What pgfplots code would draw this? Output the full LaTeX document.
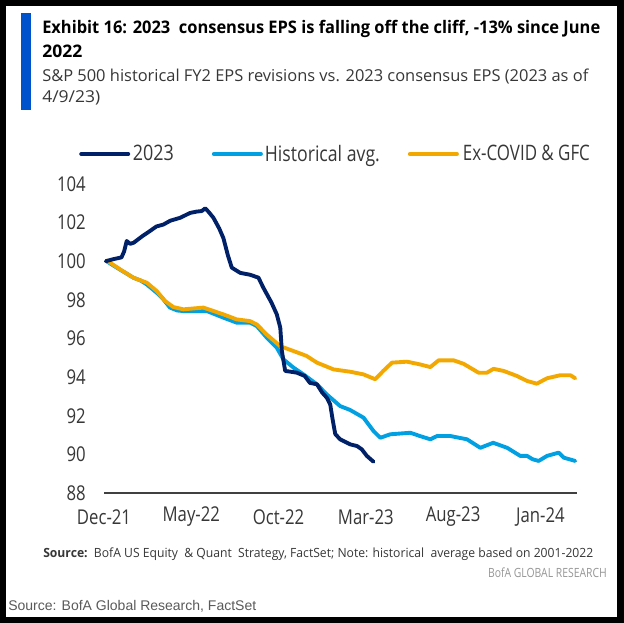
\documentclass[border=0pt]{standalone}
\usepackage{pgfplots}
\pgfplotsset{compat=1.18}
\usepackage{fontspec}
\setmainfont{Open Sans}[FakeStretch=0.82]
\newfontfamily\plainf{Open Sans}
\newfontfamily\arialf{Liberation Sans}
\definecolor{navy}{RGB}{0,32,104}
\definecolor{lblue}{RGB}{0,160,226}
\definecolor{orng}{RGB}{242,168,0}
\definecolor{barblue}{RGB}{0,82,204}
\definecolor{txt}{RGB}{55,55,55}
\definecolor{ltgray}{RGB}{150,150,150}
\definecolor{srcgray}{RGB}{90,90,90}

\begin{document}
\begin{tikzpicture}[x=0.75pt,y=-0.75pt]
\fill[black] (0,0) rectangle (624,623);
\fill[white] (6,6) rectangle (617,617);
\fill[barblue] (21,13) rectangle (31,110);
\node[anchor=base west,inner sep=0,font=\plainf\fontsize{13}{15}\selectfont\bfseries,text=black] at (42,34)
  {\resizebox{418.5pt}{\height}{Exhibit 16: 2023\ \ consensus EPS is falling off the cliff, -13\% since June}};
\node[anchor=base west,inner sep=0,font=\plainf\fontsize{13}{15}\selectfont\bfseries,text=black] at (42,58)
  {\resizebox{30pt}{\height}{2022}};
\node[anchor=base west,inner sep=0,font=\plainf\fontsize{12.3}{14}\selectfont,text=txt] at (42,82)
  {\resizebox{409.5pt}{\height}{S\&P 500 historical FY2 EPS revisions vs. 2023 consensus EPS (2023 as of}};
\node[anchor=base west,inner sep=0,font=\plainf\fontsize{12.3}{14}\selectfont,text=txt] at (42,103)
  {\resizebox{43.5pt}{\height}{4/9/23)}};

\node[anchor=base west,inner sep=0,font=\fontsize{9.5}{11}\selectfont,text=txt] at (43,557.5)
  {\resizebox{412.5pt}{\height}{\textbf{Source:}\ \ BofA US Equity\ \ \& Quant\ \ Strategy, FactSet; Note: historical\ \ average based on 2001-2022}};
\node[anchor=base east,inner sep=0,font=\fontsize{9.5}{11}\selectfont,text=ltgray] at (607,577) {BofA GLOBAL RESEARCH};
\node[anchor=base west,inner sep=0,font=\arialf\fontsize{10.5}{12}\selectfont,text=srcgray] at (8,610) {Source: BofA Global Research, FactSet};

\begin{axis}[
  at={(78pt,-369.75pt)}, anchor=south west,
  scale only axis, width=354.75pt, height=231.75pt,
  xmin=0, xmax=27.1, ymin=88, ymax=104,
  axis x line*=bottom, axis y line*=left,
  x axis line style={draw=black!75, line width=1pt},
  y axis line style={draw=none},
  major tick length=0pt,
  xtick={0,5,10,15,20,25},
  xticklabels={Dec-21,May-22,Oct-22,Mar-23,Aug-23,Jan-24},
  ytick={88,90,...,104},
  /pgf/number format/assume math mode=true,
  ticklabel style={font=\fontsize{15.3}{18}\selectfont, text=txt, inner sep=0pt},
  xticklabel style={anchor=center, yshift=-18pt},
  yticklabel style={anchor=east, xshift=-13.5pt},
  legend columns=3,
  legend style={at={(-0.0529,1.0971)}, anchor=west, draw=none, fill=none, inner sep=0pt,
    font=\fontsize{16}{18}\selectfont, text=txt,
    nodes={inner sep=0pt},
    /tikz/column 1/.style={column sep=2pt},
    /tikz/column 2/.style={column sep=28.5pt},
    /tikz/column 3/.style={column sep=1.5pt},
    /tikz/column 4/.style={column sep=21pt},
    /tikz/column 5/.style={column sep=3pt}},
  legend image code/.code={\draw[#1,line width=3pt] (0pt,0pt) -- (35.25pt,0pt);},
  every axis plot/.append style={line width=2.9pt, line join=round, line cap=round},
]
\addlegendimage{navy}
\addlegendentry{\resizebox{30.75pt}{\height}{2023}}
\addlegendimage{lblue}
\addlegendentry{\resizebox{86.25pt}{\height}{Historical avg.}}
\addlegendimage{orng}
\addlegendentry{\resizebox{95.25pt}{\height}{Ex-COVID \& GFC}}

\addplot[lblue, forget plot] coordinates {
(0.15,100.0) (0.73,99.67) (1.68,99.15) (2.1,99.0) (2.45,98.8) (3.02,98.37) (3.4,98.03) (3.78,97.6) (4.2,97.45) (4.55,97.42) (5.3,97.42) (5.9,97.42) (6.84,97.08) (7.6,96.82) (8.37,96.82) (8.75,96.65) (9.33,96.04) (9.9,95.52) (10.28,94.92) (10.86,94.49) (11.43,94.14) (12.2,93.63) (12.77,93.1) (13.53,92.5) (14.1,92.3) (14.87,91.9) (15.44,91.21) (15.83,90.86) (16.4,91.04) (17.55,91.12) (18.1,90.95) (18.7,90.78) (19.08,90.95) (19.84,90.95) (20.8,90.78) (21.56,90.34) (22.3,90.6) (23.1,90.34) (23.85,89.92) (24.24,89.92) (24.55,89.75) (24.9,89.66) (25.38,89.92) (26.05,90.09) (26.34,89.83) (27.0,89.66)
};
\addplot[orng, forget plot] coordinates {
(0.15,100.05) (0.92,99.58) (1.68,99.15) (2.45,98.89) (3.02,98.46) (3.5,97.94) (3.97,97.63) (4.55,97.51) (5.69,97.6) (6.84,97.25) (7.6,96.99) (8.37,96.9) (8.75,96.73) (9.33,96.2) (10.1,95.6) (10.86,95.35) (11.6,95.1) (12.2,94.75) (13.15,94.4) (14.1,94.28) (14.87,94.14) (15.54,93.89) (16.0,94.32) (16.5,94.75) (17.36,94.8) (18.1,94.66) (18.7,94.52) (19.17,94.87) (20.03,94.87) (20.6,94.69) (21.46,94.23) (21.94,94.23) (22.32,94.43) (22.9,94.32) (23.66,94.06) (24.24,93.8) (24.8,93.66) (25.38,93.94) (26.15,94.1) (26.72,94.1) (27.0,93.94)
};
\addplot[navy, forget plot] coordinates {
(0.1,100.0) (0.5,100.1) (1.0,100.2) (1.15,100.5) (1.3,101.05) (1.5,100.9) (1.7,100.96) (2.2,101.3) (2.64,101.57) (3.0,101.8) (3.4,101.9) (3.8,102.1) (4.36,102.25) (4.93,102.5) (5.3,102.57) (5.6,102.6) (5.8,102.74) (6.0,102.55) (6.27,102.25) (6.6,101.7) (6.84,101.2) (7.1,100.3) (7.32,99.67) (7.8,99.4) (8.37,99.3) (8.85,99.15) (9.13,98.63) (9.6,97.85) (9.9,97.25) (10.1,96.56) (10.19,95.35) (10.38,94.32) (10.7,94.28) (11.05,94.23) (11.5,94.06) (11.8,93.7) (12.2,93.63) (12.5,93.2) (12.77,92.93) (12.96,92.59) (13.1,91.8) (13.25,91.05) (13.53,90.78) (14.1,90.52) (14.5,90.43) (14.77,90.26) (15.06,89.92) (15.44,89.62)
};
\end{axis}
\end{tikzpicture}
\end{document}
